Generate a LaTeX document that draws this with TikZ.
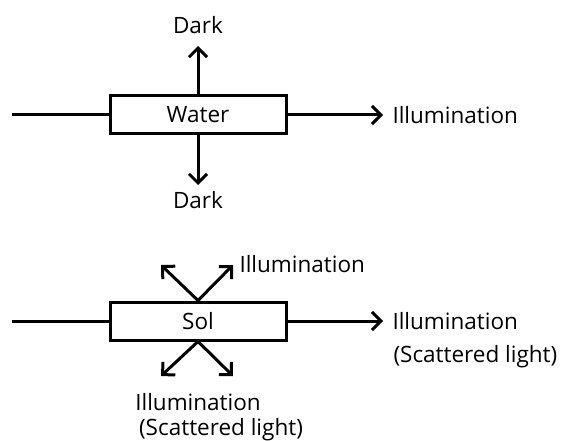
\documentclass[tikz,border=0pt]{standalone}
\usepackage{fontspec}
\setmainfont{Open Sans}
\usetikzlibrary{arrows.meta}
\begin{document}
\begin{tikzpicture}[x=1pt,y=-1pt,
  line width=3pt,
  lbl/.style={font=\fontsize{22.5}{26}\selectfont, inner sep=0pt},
  cell/.style={draw, minimum width=176pt, minimum height=38pt, inner sep=0pt, font=\fontsize{22.5}{26}\selectfont},
  ray/.style={-{Straight Barb[length=9pt,width=18pt]}}]
\useasboundingbox (0,0) rectangle (565,441);

% upper cell: water
\node[cell] (water) at (198,115) {Water};
\coordinate (win) at (12,115);
\coordinate (wout) at (383,115);
\coordinate (wup) at (198,46);
\coordinate (wdn) at (198,185);
\draw (win) -- (water.west);
\draw[ray] (water.east) -- (wout);
\draw[ray] (water.north) -- (wup);
\draw[ray] (water.south) -- (wdn);
\node[lbl, anchor=west] (wlight) at (391,115) {Illumination};
\node[lbl] (wdark1) at (198,25) {Dark};
\node[lbl] (wdark2) at (198,200) {Dark};

% lower cell: sol
\node[cell] (sol) at (198,321) {Sol};
\coordinate (sin) at (12,321);
\coordinate (sout) at (383,321);
\coordinate (sul) at (161,265);
\coordinate (sur) at (233,265);
\coordinate (sdl) at (161,376);
\coordinate (sdr) at (233,376);
\draw (sin) -- (sol.west);
\draw[ray] (sol.east) -- (sout);
\draw[ray] (sol.north) -- (sul);
\draw[ray] (sol.north) -- (sur);
\draw[ray] (sol.south) -- (sdl);
\draw[ray] (sol.south) -- (sdr);
\node[lbl, anchor=west] (slight) at (391,321) {Illumination};
\node[lbl, anchor=west] (sscat) at (392,357) {(Scattered light)};
\node[lbl, anchor=west] (supl) at (238,264) {Illumination};
\node[lbl] (sdown) at (198,402) {Illumination};
\node[lbl] (sdscat) at (221,430) {(Scattered light)};
\end{tikzpicture}
\end{document}
